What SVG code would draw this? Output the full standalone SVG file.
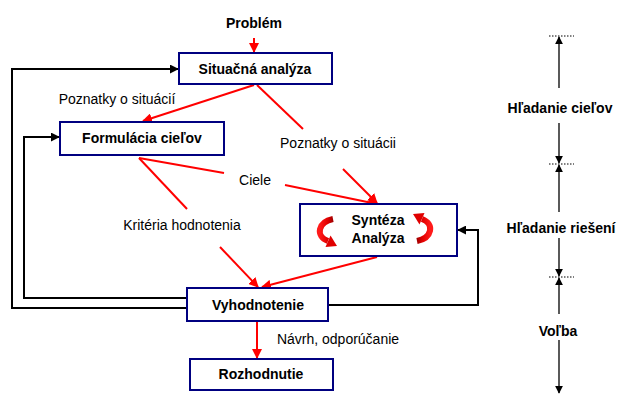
<svg xmlns="http://www.w3.org/2000/svg" width="621" height="394" viewBox="0 0 621 394">
  <style>
    .box { fill: #ffffff; stroke: #000080; stroke-width: 2; }
    .lbl { font-family: "Liberation Sans", Arial, sans-serif; font-size: 14px; fill: #000; text-anchor: middle; }
    .b { font-weight: bold; }
    .red { fill: none; stroke: #ff0000; stroke-width: 2; }
    .blk { fill: none; stroke: #000; stroke-width: 2; }
    .thin { fill: none; stroke: #000; stroke-width: 1.3; }
    .dot { fill: none; stroke: #000; stroke-width: 1; stroke-dasharray: 1.5 1.5; }
  </style>
  <defs>
    <marker id="ra" viewBox="0 0 10 10" refX="9" refY="5" markerWidth="5" markerHeight="5" orient="auto" markerUnits="strokeWidth">
      <path d="M0 0 L10 5 L0 10 z" fill="#ff0000"/>
    </marker>
    <marker id="ka" viewBox="0 0 10 10" refX="9" refY="5" markerWidth="4.5" markerHeight="4.5" orient="auto" markerUnits="strokeWidth">
      <path d="M0 0 L10 5 L0 10 z" fill="#000"/>
    </marker>
    <marker id="ta" viewBox="0 0 10 10" refX="9" refY="5" markerWidth="6" markerHeight="6" orient="auto" markerUnits="strokeWidth">
      <path d="M0 0 L10 5 L0 10 z" fill="#000"/>
    </marker>
    <linearGradient id="cg" x1="0" y1="0" x2="1" y2="0">
      <stop offset="0" stop-color="#ff1a1a"/>
      <stop offset="0.6" stop-color="#e00000"/>
      <stop offset="1" stop-color="#a00000"/>
    </linearGradient>
    <g id="curl">
      <path d="M333 219 C318 222 315 236 328 241" fill="none" stroke="url(#cg)" stroke-width="6"/>
      <path d="M325.5 247 L330.5 235.5 L337 246 z" fill="#e00000"/>
    </g>
  </defs>

  <!-- connectors -->
  <g id="connectors">
    <line class="red" x1="254" y1="38" x2="254" y2="52" marker-end="url(#ra)"/>
    <line class="red" x1="254" y1="85" x2="143" y2="121" marker-end="url(#ra)"/>
    <polyline class="red" points="257,85 303,129"/>
    <line class="red" x1="343" y1="169" x2="377" y2="203" marker-end="url(#ra)"/>
    <polyline class="red" points="139,158 224,173"/>
    <line class="red" x1="285" y1="185" x2="377" y2="204" marker-end="url(#ra)"/>
    <polyline class="red" points="139,158 187,209"/>
    <line class="red" x1="220" y1="247" x2="258" y2="287" marker-end="url(#ra)"/>
    <line class="red" x1="377" y1="257" x2="262" y2="287" marker-end="url(#ra)"/>
    <line class="red" x1="257" y1="322" x2="257" y2="358" marker-end="url(#ra)"/>

    <polyline class="blk" points="187,308 12,308 12,69 178,69" marker-end="url(#ka)"/>
    <polyline class="blk" points="187,298 24,298 24,137 59,137" marker-end="url(#ka)"/>
    <polyline class="blk" points="328,305 478,305 478,230 458,230" marker-end="url(#ka)"/>

    <!-- phase scale -->
    <line class="dot" x1="549" y1="36" x2="574" y2="36"/>
    <line class="dot" x1="549" y1="164" x2="574" y2="164"/>
    <line class="dot" x1="549" y1="277" x2="574" y2="277"/>
    <line class="thin" x1="559" y1="88" x2="559" y2="37" marker-end="url(#ta)"/>
    <line class="thin" x1="559" y1="123" x2="559" y2="163" marker-end="url(#ta)"/>
    <line class="thin" x1="559" y1="212" x2="559" y2="165" marker-end="url(#ta)"/>
    <line class="thin" x1="559" y1="238" x2="559" y2="276" marker-end="url(#ta)"/>
    <line class="thin" x1="559" y1="314" x2="559" y2="278" marker-end="url(#ta)"/>
    <line class="thin" x1="559" y1="340" x2="559" y2="393" marker-end="url(#ta)"/>
  </g>

  <!-- connector labels -->
  <g id="labels">
    <text class="lbl b" x="254" y="28">Problém</text>
    <text class="lbl" x="117" y="104">Poznatky o situácií</text>
    <text class="lbl" x="338" y="148">Poznatky o situácii</text>
    <text class="lbl" x="255" y="185">Ciele</text>
    <text class="lbl" x="182" y="230">Kritéria hodnotenia</text>
    <text class="lbl" x="338" y="344">Návrh, odporúčanie</text>
    <text class="lbl b" x="560" y="113">Hľadanie cieľov</text>
    <text class="lbl b" x="561" y="233">Hľadanie riešení</text>
    <text class="lbl b" x="558" y="336">Voľba</text>
  </g>

  <g id="situacna">
    <rect class="box" x="179" y="53" width="153" height="31"/>
    <text class="lbl b" x="255" y="74">Situačná analýza</text>
  </g>
  <g id="formulacia">
    <rect class="box" x="60" y="122" width="164" height="33"/>
    <text class="lbl b" x="142" y="143">Formulácia cieľov</text>
  </g>
  <g id="synteza">
    <rect class="box" x="300" y="204" width="157" height="52"/>
    <text class="lbl b" x="378" y="225">Syntéza</text>
    <text class="lbl b" x="378" y="243">Analýza</text>
    <use href="#curl"/>
    <use href="#curl" transform="rotate(180 375 230)"/>
  </g>
  <g id="vyhodnotenie">
    <rect class="box" x="187" y="288" width="141" height="33"/>
    <text class="lbl b" x="258" y="310">Vyhodnotenie</text>
  </g>
  <g id="rozhodnutie">
    <rect class="box" x="190" y="359" width="143" height="31"/>
    <text class="lbl b" x="261" y="379">Rozhodnutie</text>
  </g>
</svg>
